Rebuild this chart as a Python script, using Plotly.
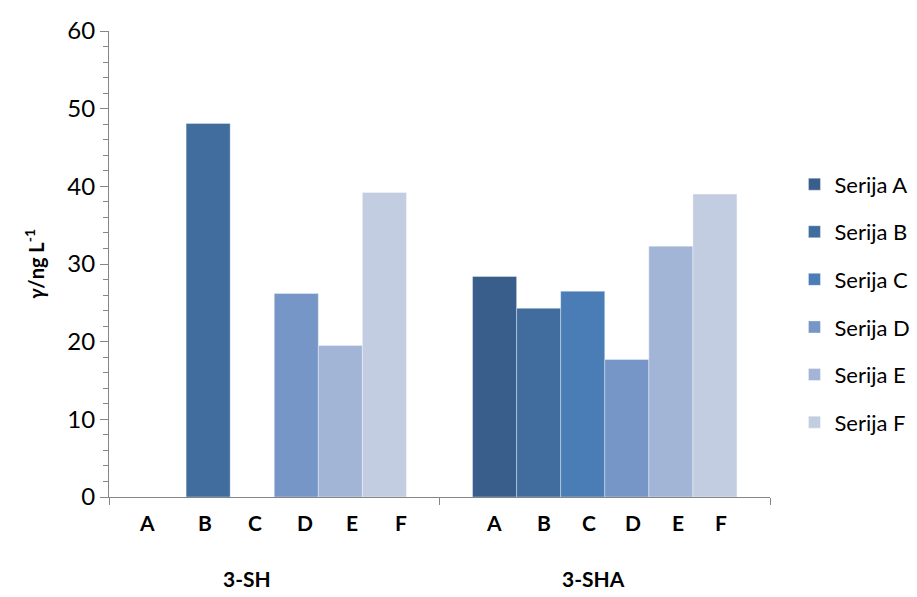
import plotly.graph_objects as go

groups = ["3-SH", "3-SHA"]
series_names = ["Serija A", "Serija B", "Serija C", "Serija D", "Serija E", "Serija F"]
sub_labels = ["A", "B", "C", "D", "E", "F"]
serija_a = [0, 28.4]
serija_b = [48.1, 24.3]
serija_c = [0, 26.5]
serija_d = [26.2, 17.7]
serija_e = [19.5, 32.3]
serija_f = [39.2, 39.0]
y_ticks = [0, 10, 20, 30, 40, 50, 60]

values = [serija_a, serija_b, serija_c, serija_d, serija_e, serija_f]
colors = ["#395E8C", "#416C9E", "#4A7CB6", "#7596C6", "#A3B5D6", "#C3CDE2"]

# label placement (layout only): offsets from each group's centre, in category units
sub_label_offsets = [
    [-0.385, -0.209, -0.058, 0.094, 0.236, 0.382],
    [-0.336, -0.185, -0.048, 0.085, 0.221, 0.352],
]
group_label_offsets = [-0.082, -0.033]

FONT = "Lato, 'Open Sans', sans-serif"
BARGAP = 0.2

fig = go.Figure()
for name, vals, col in zip(series_names, values, colors):
    fig.add_trace(go.Bar(
        x=groups, y=vals, name=name, legendgroup=name,
        marker=dict(color=col, line=dict(color="rgba(255,255,255,0.6)", width=0.6)),
    ))

annotations = []
for gi, g in enumerate(groups):
    for si, lab in enumerate(sub_labels):
        annotations.append(dict(
            x=gi + sub_label_offsets[gi][si], xref="x",
            y=-0.054, yref="paper", yanchor="middle",
            text=lab, showarrow=False,
            font=dict(family=FONT, size=21, color="black", weight="bold"),
        ))
    annotations.append(dict(
        x=gi + group_label_offsets[gi], xref="x",
        y=-0.174, yref="paper", yanchor="middle",
        text=g, showarrow=False,
        font=dict(family=FONT, size=21, color="black", weight="bold"),
    ))

# page body has an 8px margin, so the figure is sized/offset to compensate
fig.update_layout(
    width=909, height=589,
    margin=dict(l=101, r=147, t=23, b=100, autoexpand=False),
    paper_bgcolor="white", plot_bgcolor="white",
    barmode="group", bargap=BARGAP, bargroupgap=0,
    font=dict(family=FONT, color="black"),
    legend=dict(
        x=1.037, y=0.716, xanchor="left", yanchor="top",
        traceorder="grouped", tracegroupgap=16,
        font=dict(family=FONT, size=22, color="black"),
        itemwidth=30,
    ),
    annotations=annotations,
    xaxis=dict(
        type="category", tickson="boundaries", automargin=False,
        showline=True, linecolor="#868686", linewidth=1.2,
        ticks="outside", ticklen=7, tickcolor="#868686",
        showticklabels=False,
        showgrid=False, zeroline=False,
    ),
    yaxis=dict(
        range=[0, 60], tickvals=y_ticks, automargin=False,
        showline=True, linecolor="#868686", linewidth=1.2,
        ticks="outside", ticklen=8, tickcolor="#868686",
        minor=dict(dtick=2, ticks="outside", ticklen=5, tickcolor="#868686", showgrid=False),
        tickfont=dict(family=FONT, size=24, color="black"),
        showgrid=False, zeroline=False,
        title=dict(text="<i>γ</i>/ng L<sup>-1</sup>",
                   font=dict(family=FONT, size=20, color="black", weight="bold"),
                   standoff=17),
    ),
)

fig.write_html("out.html")
